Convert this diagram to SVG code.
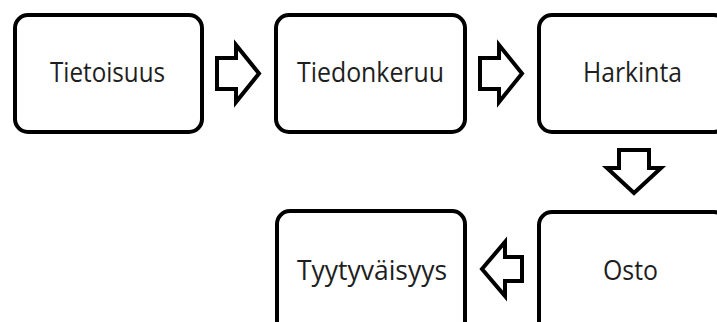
<svg xmlns="http://www.w3.org/2000/svg" width="717" height="322" viewBox="0 0 717 322">
  <style>
    .box { fill: #ffffff; stroke: #000000; stroke-width: 4; }
    .lbl { font-family: "Open Sans", "Noto Sans", sans-serif; font-size: 27px; fill: #1e1e1e; text-anchor: middle; }
    .arrow { fill: #ffffff; stroke: #000000; stroke-width: 4; stroke-linejoin: miter; stroke-miterlimit: 10; }
  </style>
  <rect width="717" height="322" fill="#ffffff"/>

  <g id="tietoisuus">
    <rect class="box" x="15" y="15" width="187" height="117" rx="13" ry="13"/>
    <text class="lbl" x="107.5" y="82" textLength="115" lengthAdjust="spacingAndGlyphs">Tietoisuus</text>
  </g>
  <g id="tiedonkeruu">
    <rect class="box" x="276" y="15" width="189" height="117" rx="13" ry="13"/>
    <text class="lbl" x="370.5" y="82" textLength="147" lengthAdjust="spacingAndGlyphs">Tiedonkeruu</text>
  </g>
  <g id="harkinta">
    <rect class="box" x="539" y="15" width="188" height="117" rx="13" ry="13"/>
    <text class="lbl" x="632.5" y="82" textLength="99" lengthAdjust="spacingAndGlyphs">Harkinta</text>
  </g>
  <g id="osto">
    <rect class="box" x="539" y="212" width="188" height="130" rx="13" ry="13"/>
    <text class="lbl" x="630.5" y="280" textLength="55" lengthAdjust="spacingAndGlyphs">Osto</text>
  </g>
  <g id="tyytyvaisyys">
    <rect class="box" x="277" y="211" width="188" height="130" rx="13" ry="13"/>
    <text class="lbl" x="372" y="280" textLength="150" lengthAdjust="spacingAndGlyphs">Tyytyväisyys</text>
  </g>

  <g id="connectors">
    <polygon class="arrow" points="217,58 236,58 236,45 259,73.5 236,102 236,89 217,89"/>
    <polygon class="arrow" points="480,58 499,58 499,45 522,73.5 499,102 499,89 480,89"/>
    <polygon class="arrow" points="619,150 649,150 649,168 661,168 634,193 607,168 619,168"/>
    <polygon class="arrow" points="522,257 522,281 505,281 505,296 482,269 505,242 505,257"/>
  </g>
</svg>
